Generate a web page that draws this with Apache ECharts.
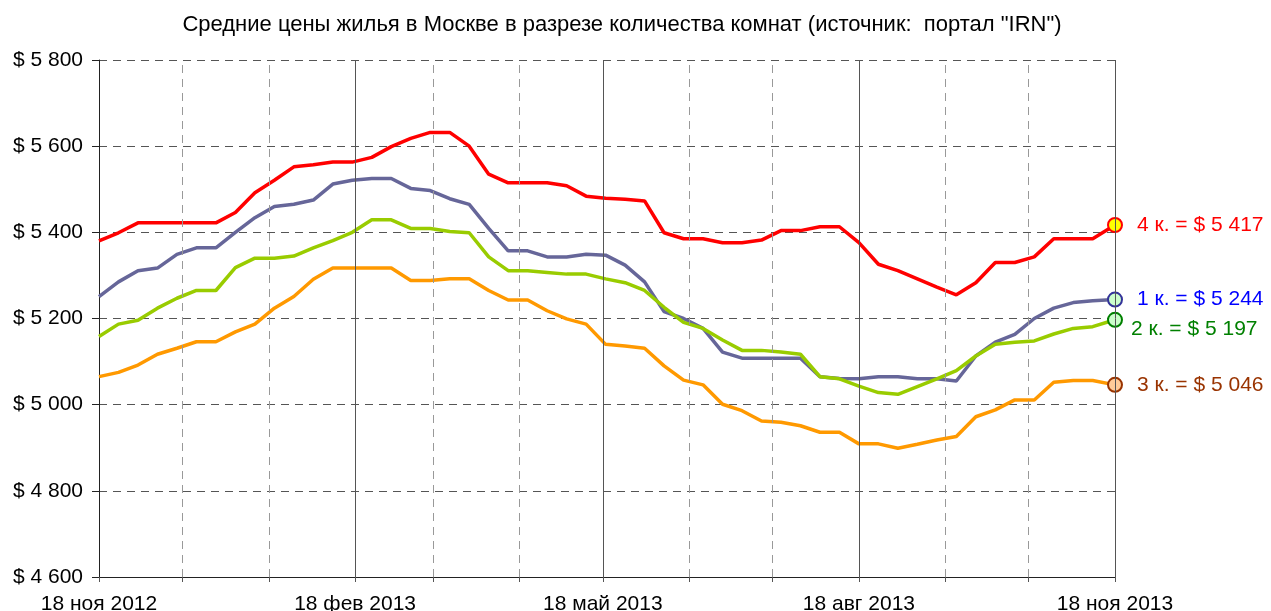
<!DOCTYPE html>
<html>
<head>
<meta charset="utf-8">
<script src="https://cdn.jsdelivr.net/npm/echarts@6/dist/echarts.min.js"></script>
<style>
  html, body { margin: 0; padding: 0; background: #fff; }
  #main { width: 1271px; height: 611px; }
</style>
</head>
<body>
<div id="main"></div>
<script>
// weekly observations
var dates = [
  '2012-11-18', '2012-11-25', '2012-12-02', '2012-12-09', '2012-12-16', '2012-12-23', '2012-12-30',
  '2013-01-06', '2013-01-13', '2013-01-20', '2013-01-27',
  '2013-02-03', '2013-02-10', '2013-02-17', '2013-02-24',
  '2013-03-03', '2013-03-10', '2013-03-17', '2013-03-24', '2013-03-31',
  '2013-04-07', '2013-04-14', '2013-04-21', '2013-04-28',
  '2013-05-05', '2013-05-12', '2013-05-19', '2013-05-26',
  '2013-06-02', '2013-06-09', '2013-06-16', '2013-06-23', '2013-06-30',
  '2013-07-07', '2013-07-14', '2013-07-21', '2013-07-28',
  '2013-08-04', '2013-08-11', '2013-08-18', '2013-08-25',
  '2013-09-01', '2013-09-08', '2013-09-15', '2013-09-22', '2013-09-29',
  '2013-10-06', '2013-10-13', '2013-10-20', '2013-10-27',
  '2013-11-03', '2013-11-10', '2013-11-18'
];

var room1 = [5251, 5285, 5311, 5317, 5349, 5364, 5364, 5400, 5434, 5460, 5465, 5475, 5512, 5521,
  5525, 5525, 5502, 5497, 5478, 5465, 5409, 5357, 5357, 5343, 5343, 5349, 5347, 5324,
  5285, 5216, 5200, 5177, 5122, 5108, 5108, 5108, 5108, 5065, 5061, 5060, 5065,
  5065, 5060, 5060, 5055, 5113, 5145, 5163, 5200, 5224, 5237, 5241, 5244];
var room2 = [5158, 5187, 5196, 5224, 5247, 5265, 5265, 5318, 5340, 5340, 5345, 5364, 5381, 5400,
  5429, 5429, 5409, 5409, 5402, 5399, 5343, 5311, 5311, 5307, 5303, 5303, 5292, 5283,
  5265, 5226, 5191, 5177, 5150, 5126, 5126, 5122, 5117, 5065, 5060, 5043, 5028,
  5024, 5042, 5060, 5079, 5113, 5140, 5145, 5148, 5164, 5177, 5181, 5197];
var room3 = [5065, 5075, 5092, 5117, 5131, 5146, 5146, 5169, 5187, 5224, 5251, 5291, 5317, 5317,
  5317, 5317, 5288, 5288, 5292, 5292, 5265, 5243, 5243, 5218, 5199, 5187, 5140, 5136,
  5131, 5090, 5057, 5046, 5001, 4986, 4962, 4959, 4951, 4936, 4936, 4909, 4909,
  4899, 4908, 4918, 4926, 4972, 4988, 5011, 5011, 5052, 5056, 5056, 5046];
var room4 = [5380, 5399, 5422, 5422, 5422, 5422, 5422, 5446, 5492, 5521, 5552, 5557, 5563, 5563,
  5574, 5599, 5618, 5632, 5632, 5600, 5535, 5515, 5515, 5515, 5508, 5484, 5479, 5477,
  5473, 5399, 5385, 5385, 5376, 5376, 5382, 5404, 5404, 5413, 5413, 5376, 5326,
  5311, 5292, 5273, 5255, 5283, 5330, 5330, 5343, 5385, 5385, 5385, 5417];

var quarterTicks = ['2012-11-18', '2013-02-18', '2013-05-18', '2013-08-18', '2013-11-18'];
var monthTicks = ['2012-12-18', '2013-01-18', '2013-03-18', '2013-04-18', '2013-06-18',
  '2013-07-18', '2013-09-18', '2013-10-18'];
var monthNames = ['янв', 'фев', 'мар', 'апр', 'май', 'июн', 'июл', 'авг', 'сен', 'окт', 'ноя', 'дек'];

var chart = echarts.init(document.getElementById('main'));
var FONT = '"Liberation Sans", Arial, sans-serif';
var DAY = 86400000;

function utc(s) {
  var p = s.split('-');
  return Date.UTC(+p[0], +p[1] - 1, +p[2]);
}
var T0 = utc(quarterTicks[0]);
// day offset from the start of the axis
function day(s) { return Math.round((utc(s) - T0) / DAY); }

function money(v) {
  var s = String(Math.round(v));
  return '$ ' + s.replace(/\B(?=(\d{3})+(?!\d))/g, ' ');
}

function makeSeries(name, values, color, markFill, markBorder, labelColor, labelOffset) {
  var data = values.map(function (v, i) { return [day(dates[i]), v]; });
  var last = data.length - 1;
  data[last] = {
    value: data[last],
    symbol: 'circle',
    symbolSize: 14,
    itemStyle: { color: markFill, borderColor: markBorder, borderWidth: 2 },
    label: {
      show: true,
      position: 'right',
      distance: 14,
      offset: labelOffset,
      color: labelColor,
      fontFamily: FONT,
      fontSize: 21,
      formatter: name + ' = ' + money(values[last])
    }
  };
  return {
    name: name,
    type: 'line',
    data: data,
    showSymbol: true,
    symbol: 'none',
    lineStyle: { color: color, width: 3.5 },
    itemStyle: { color: color },
    z: 3
  };
}

var vlines = monthTicks.map(function (d) {
  return { xAxis: day(d), lineStyle: { type: [8, 6], color: '#999', width: 1 } };
}).concat(quarterTicks.slice(1).map(function (d) {
  return { xAxis: day(d), lineStyle: { type: 'solid', color: '#555', width: 1 } };
}));

var option = {
  animation: false,
  title: {
    text: 'Средние цены жилья в Москве в разрезе количества комнат (источник:  портал "IRN")',
    left: 617,
    top: 9,
    textAlign: 'center',
    textStyle: { fontFamily: FONT, fontSize: 22, fontWeight: 'normal', color: '#000' }
  },
  grid: { left: 99, right: 156, top: 60, bottom: 34, outerBoundsMode: 'none' },
  xAxis: {
    type: 'value',
    min: 0,
    max: day(quarterTicks[4]),
    axisLine: { lineStyle: { color: '#222', width: 1 } },
    axisTick: {
      show: true,
      length: 5,
      customValues: quarterTicks.concat(monthTicks).map(day),
      lineStyle: { color: '#555' }
    },
    axisLabel: {
      customValues: quarterTicks.map(day),
      formatter: function (v) {
        var d = new Date(T0 + v * DAY);
        return d.getUTCDate() + ' ' + monthNames[d.getUTCMonth()] + ' ' + d.getUTCFullYear();
      },
      color: '#000',
      fontFamily: FONT,
      fontSize: 21,
      margin: 17,
      hideOverlap: false,
      showMinLabel: true,
      showMaxLabel: true
    },
    splitLine: { show: false }
  },
  yAxis: {
    type: 'value',
    min: 4600,
    max: 5800,
    interval: 200,
    axisLine: { show: true, lineStyle: { color: '#222', width: 1 } },
    axisTick: { show: true, length: 7, lineStyle: { color: '#222' } },
    axisLabel: {
      formatter: money,
      color: '#000',
      fontFamily: FONT,
      fontSize: 21,
      margin: 16
    },
    splitLine: { show: true, lineStyle: { type: [8, 6], color: '#555', width: 1 } }
  },
  series: [
    {
      type: 'line',
      data: [],
      silent: true,
      z: 1,
      markLine: {
        silent: true,
        symbol: ['none', 'none'],
        label: { show: false },
        animation: false,
        data: vlines
      }
    },
    makeSeries('1 к.', room1, '#666699', '#ccffcc', '#333399', '#0000ff', [0, 0]),
    makeSeries('2 к.', room2, '#99cc00', '#ccffcc', '#008000', '#008000', [-6, 9]),
    makeSeries('3 к.', room3, '#ff9900', '#ffcc99', '#993300', '#993300', [0, 0]),
    makeSeries('4 к.', room4, '#ff0000', '#ffff00', '#ff0000', '#ff0000', [0, 0])
  ]
};

chart.setOption(option);
</script>
</body>
</html>
